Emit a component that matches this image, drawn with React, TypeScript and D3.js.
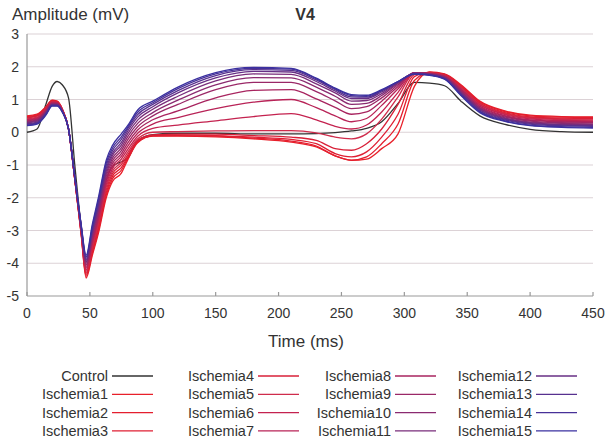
import * as d3 from 'd3';

// sample times (ms) shared by every trace
const timeMs = [0, 8, 15, 20, 24, 28, 33, 38, 43, 47, 52, 57, 63, 68, 75, 80, 88, 100, 120, 150, 180, 210, 230, 245, 258, 270, 282, 295, 308, 320, 332, 345, 360, 380, 400, 425, 450];

const control = [0, 0.1, 0.85, 1.4, 1.55, 1.45, 1.05, -1.0, -2.85, -3.95, -3.4, -2.55, -1.45, -1.05, -0.9, -0.8, -0.25, -0.07, -0.03, -0.03, -0.05, -0.05, -0.04, -0.01, 0.04, 0.12, 0.32, 0.88, 1.52, 1.5, 1.42, 0.95, 0.5, 0.24, 0.09, 0.02, 0.0];
const ischemia1 = [0.5, 0.55, 0.78, 0.98, 0.95, 0.72, 0.1, -1.45, -3.1, -4.45, -3.75, -3.05, -2.0, -1.5, -1.25, -0.85, -0.32, -0.12, -0.12, -0.14, -0.2, -0.3, -0.45, -0.72, -0.86, -0.82, -0.5, -0.05, 1.4, 1.84, 1.78, 1.45, 0.95, 0.65, 0.52, 0.48, 0.47];
const ischemia2 = [0.48, 0.53, 0.76, 0.97, 0.94, 0.71, 0.1, -1.44, -3.08, -4.4, -3.68, -2.97, -1.92, -1.42, -1.16, -0.8, -0.3, -0.11, -0.1, -0.12, -0.18, -0.27, -0.42, -0.72, -0.85, -0.75, -0.35, 0.25, 1.58, 1.83, 1.77, 1.43, 0.93, 0.63, 0.5, 0.46, 0.45];
const ischemia3 = [0.46, 0.51, 0.74, 0.95, 0.93, 0.71, 0.1, -1.44, -3.06, -4.35, -3.61, -2.89, -1.84, -1.34, -1.08, -0.76, -0.28, -0.1, -0.08, -0.1, -0.15, -0.22, -0.35, -0.65, -0.75, -0.6, -0.15, 0.55, 1.7, 1.83, 1.76, 1.4, 0.9, 0.6, 0.47, 0.43, 0.42];
const ischemia4 = [0.44, 0.49, 0.72, 0.94, 0.92, 0.7, 0.1, -1.43, -3.04, -4.3, -3.55, -2.81, -1.75, -1.26, -0.99, -0.7, -0.25, -0.08, -0.06, -0.06, -0.1, -0.15, -0.25, -0.5, -0.55, -0.35, 0.1, 0.85, 1.76, 1.82, 1.75, 1.38, 0.88, 0.58, 0.45, 0.41, 0.4];
const ischemia5 = [0.41, 0.46, 0.71, 0.93, 0.91, 0.69, 0.1, -1.42, -3.01, -4.25, -3.48, -2.74, -1.67, -1.19, -0.91, -0.62, -0.2, 0.0, 0.02, 0.04, 0.05, 0.05, -0.02, -0.15, -0.2, -0.05, 0.4, 1.08, 1.8, 1.81, 1.73, 1.36, 0.85, 0.56, 0.43, 0.39, 0.37];
const ischemia6 = [0.39, 0.44, 0.69, 0.92, 0.9, 0.68, 0.1, -1.41, -2.99, -4.2, -3.41, -2.66, -1.59, -1.11, -0.82, -0.53, -0.12, 0.12, 0.22, 0.35, 0.48, 0.57, 0.38, 0.18, 0.1, 0.22, 0.62, 1.22, 1.81, 1.8, 1.72, 1.33, 0.83, 0.54, 0.41, 0.36, 0.35];
const ischemia7 = [0.37, 0.42, 0.67, 0.9, 0.89, 0.68, 0.1, -1.41, -2.97, -4.15, -3.34, -2.58, -1.51, -1.03, -0.74, -0.43, -0.03, 0.25, 0.45, 0.72, 0.92, 1.0, 0.75, 0.5, 0.32, 0.42, 0.82, 1.33, 1.82, 1.8, 1.71, 1.31, 0.8, 0.51, 0.38, 0.34, 0.32];
const ischemia8 = [0.35, 0.4, 0.65, 0.89, 0.88, 0.67, 0.1, -1.4, -2.95, -4.1, -3.28, -2.5, -1.43, -0.95, -0.65, -0.33, 0.07, 0.38, 0.65, 1.05, 1.28, 1.3, 1.02, 0.76, 0.55, 0.62, 0.95, 1.4, 1.82, 1.79, 1.7, 1.29, 0.78, 0.49, 0.36, 0.32, 0.3];
const ischemia9 = [0.33, 0.38, 0.63, 0.88, 0.86, 0.66, 0.1, -1.39, -2.93, -4.05, -3.21, -2.42, -1.34, -0.87, -0.56, -0.23, 0.17, 0.5, 0.85, 1.3, 1.52, 1.52, 1.24, 0.96, 0.72, 0.78, 1.05, 1.45, 1.82, 1.78, 1.69, 1.26, 0.75, 0.47, 0.34, 0.29, 0.28];
const ischemia10 = [0.31, 0.36, 0.61, 0.86, 0.85, 0.66, 0.1, -1.39, -2.91, -4.0, -3.14, -2.34, -1.26, -0.79, -0.48, -0.14, 0.27, 0.6, 0.98, 1.45, 1.67, 1.66, 1.38, 1.1, 0.85, 0.88, 1.12, 1.49, 1.81, 1.78, 1.68, 1.24, 0.73, 0.44, 0.31, 0.27, 0.25];
const ischemia11 = [0.29, 0.34, 0.59, 0.85, 0.84, 0.65, 0.1, -1.38, -2.89, -3.95, -3.07, -2.26, -1.18, -0.71, -0.39, -0.05, 0.37, 0.7, 1.1, 1.57, 1.78, 1.77, 1.48, 1.2, 0.95, 0.97, 1.18, 1.51, 1.8, 1.77, 1.67, 1.21, 0.7, 0.42, 0.29, 0.24, 0.23];
const ischemia12 = [0.26, 0.31, 0.58, 0.84, 0.83, 0.64, 0.1, -1.37, -2.86, -3.9, -3.0, -2.19, -1.1, -0.64, -0.31, 0.03, 0.46, 0.78, 1.2, 1.66, 1.86, 1.84, 1.55, 1.26, 1.03, 1.03, 1.23, 1.53, 1.8, 1.76, 1.65, 1.19, 0.68, 0.4, 0.27, 0.22, 0.2];
const ischemia13 = [0.24, 0.29, 0.56, 0.83, 0.82, 0.63, 0.1, -1.36, -2.84, -3.85, -2.94, -2.11, -1.01, -0.56, -0.22, 0.1, 0.54, 0.85, 1.27, 1.73, 1.91, 1.89, 1.6, 1.3, 1.08, 1.07, 1.26, 1.54, 1.79, 1.75, 1.64, 1.17, 0.65, 0.38, 0.25, 0.2, 0.18];
const ischemia14 = [0.22, 0.27, 0.54, 0.81, 0.81, 0.63, 0.1, -1.36, -2.82, -3.8, -2.87, -2.03, -0.93, -0.48, -0.14, 0.15, 0.61, 0.9, 1.33, 1.78, 1.95, 1.93, 1.63, 1.33, 1.12, 1.1, 1.28, 1.55, 1.78, 1.75, 1.63, 1.14, 0.63, 0.35, 0.22, 0.17, 0.15];
const ischemia15 = [0.2, 0.25, 0.52, 0.8, 0.8, 0.62, 0.1, -1.35, -2.8, -3.75, -2.8, -1.95, -0.85, -0.4, -0.05, 0.2, 0.68, 0.95, 1.38, 1.82, 1.98, 1.95, 1.65, 1.35, 1.15, 1.13, 1.3, 1.55, 1.77, 1.74, 1.62, 1.12, 0.6, 0.33, 0.2, 0.15, 0.13];

const seriesNames = ['Control', 'Ischemia1', 'Ischemia2', 'Ischemia3', 'Ischemia4', 'Ischemia5', 'Ischemia6', 'Ischemia7',
  'Ischemia8', 'Ischemia9', 'Ischemia10', 'Ischemia11', 'Ischemia12', 'Ischemia13', 'Ischemia14', 'Ischemia15'];
const seriesColors = ['#333333', '#e8202a', '#e41e2e', '#df1f33', '#d82038', '#cf2c4c', '#c4224f', '#b82357',
  '#a8245f', '#9a2867', '#8a2a70', '#792d7b', '#672f85', '#57318f', '#473198', '#3a30a0'];

const xTicks = [0, 50, 100, 150, 200, 250, 300, 350, 400, 450];
const yTicks = [-5, -4, -3, -2, -1, 0, 1, 2, 3];

const font = 'Liberation Sans, Arial, Helvetica, sans-serif';

function App() {
  const allValues = [control, ischemia1, ischemia2, ischemia3, ischemia4, ischemia5, ischemia6, ischemia7,
    ischemia8, ischemia9, ischemia10, ischemia11, ischemia12, ischemia13, ischemia14, ischemia15];

  const x = d3.scaleLinear().domain([0, 450]).range([27, 593]);
  const y = d3.scaleLinear().domain([-5, 3]).range([296, 34]);

  const line = d3.line<number>()
    .x((_, i) => x(timeMs[i]))
    .y(d => y(d))
    .curve(d3.curveMonotoneX);

  const legendX = [108, 254, 391, 532];

  return (
    <svg width={608} height={441} style={{ position: 'absolute', left: 0, top: 0 }} fontFamily={font}>
      <rect width={608} height={441} fill="#fff" />

      {/* grid */}
      {yTicks.filter(t => t !== -5).map(t => (
        <line key={t} x1={x(0)} x2={x(450)} y1={y(t)} y2={y(t)} stroke="#dcd2d6" strokeWidth={1.2} />
      ))}

      {/* axes */}
      <line x1={x(0)} x2={x(0)} y1={y(3)} y2={y(-5)} stroke="#999" strokeWidth={1.2} />
      <line x1={x(0)} x2={x(450)} y1={y(-5)} y2={y(-5)} stroke="#999" strokeWidth={1.2} />
      {xTicks.map(t => (
        <g key={t}>
          <line x1={x(t)} x2={x(t)} y1={y(-5)} y2={y(-5) - 4} stroke="#999" strokeWidth={1.2} />
          <text x={x(t)} y={318} textAnchor="middle" fontSize={14} fill="#333">{t}</text>
        </g>
      ))}
      {yTicks.map(t => (
        <text key={t} x={19} y={y(t) + 5} textAnchor="end" fontSize={14} fill="#333">{t}</text>
      ))}

      {/* traces */}
      {allValues.map((vals, i) => (
        <path key={seriesNames[i]} d={line(vals) ?? ''} fill="none" stroke={seriesColors[i]} strokeWidth={1.3} />
      ))}

      {/* titles */}
      <text x={12} y={20} fontSize={17} fill="#333">Amplitude (mV)</text>
      <text x={305} y={20} fontSize={16} fontWeight="bold" textAnchor="middle" fill="#333">V4</text>
      <text x={306} y={347} fontSize={17} textAnchor="middle" fill="#333">Time (ms)</text>

      {/* legend */}
      {seriesNames.map((name, i) => {
        const col = Math.floor(i / 4);
        const row = i % 4;
        const lx = legendX[col];
        const ly = 376 + row * 18.3;
        return (
          <g key={name}>
            <text x={lx} y={ly + 5} textAnchor="end" fontSize={14.5} fill="#333">{name}</text>
            <line x1={lx + 4} x2={lx + 45} y1={ly} y2={ly} stroke={seriesColors[i]} strokeWidth={1.3} />
          </g>
        );
      })}
    </svg>
  );
}

export default App;
